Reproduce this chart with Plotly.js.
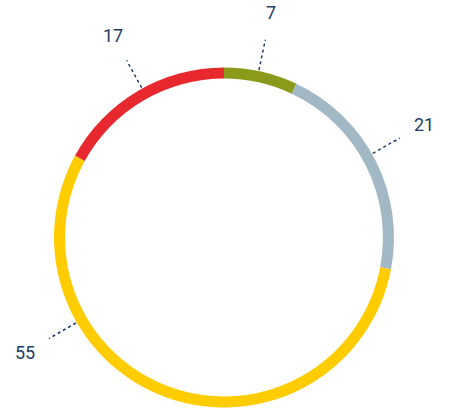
<!DOCTYPE html>
<html>
<head>
<meta charset="utf-8">
<script src="https://cdn.plot.ly/plotly-3.0.1.min.js"></script>
<style>html,body{margin:0;padding:0;background:#fff;}#chart{width:449px;height:408px;}</style>
</head>
<body>
<div id="chart"></div>
<script>
const categories = ["A", "B", "C", "D"];
const values = [7, 21, 55, 17];
const labelTexts = ["7", "21", "55", "17"];
const colors = ["#8c9a1c", "#a3b8c5", "#ffcc00", "#e8282f"];

const W = 449, H = 408;
const cx = 224, cy = 237.5, R = 170;
const textColor = "#1c3c62";
// label placement angles (degrees clockwise from top); null = slice middle
const labelAngles = [11.8, 60.5, 240, 331.2];

const total = values.reduce((a, b) => a + b, 0);
let cum = 0;
const shapes = [], annotations = [];
values.forEach((v, i) => {
  let mid = (cum + v / 2) / total * 360;
  cum += v;
  if (labelAngles[i] !== null) mid = labelAngles[i];
  const t = mid * Math.PI / 180;
  const px = r => (cx + r * Math.sin(t)) / W;
  const py = r => (H - (cy - r * Math.cos(t))) / H;
  shapes.push({type: "line", xref: "paper", yref: "paper",
    x0: px(R + 1), y0: py(R + 1), x1: px(R + 32), y1: py(R + 32),
    line: {color: textColor, width: 1.5, dash: "dot"}});
  annotations.push({xref: "paper", yref: "paper", x: px(R + 60), y: py(R + 60),
    text: labelTexts[i], showarrow: false, xanchor: "center", yanchor: "middle",
    font: {family: "Roboto, sans-serif", size: 18, color: textColor}});
});

const data = [{
  type: "pie",
  labels: categories,
  values: values,
  sort: false,
  direction: "clockwise",
  rotation: 0,
  hole: 0.935,
  textinfo: "none",
  hoverinfo: "none",
  marker: {colors: colors, line: {width: 0}},
  domain: {x: [(cx - R) / W, (cx + R) / W], y: [(H - cy - R) / H, (H - cy + R) / H]}
}];

const layout = {
  width: W, height: H,
  margin: {l: 0, r: 0, t: 0, b: 0},
  showlegend: false,
  paper_bgcolor: "#ffffff",
  shapes: shapes,
  annotations: annotations
};

Plotly.newPlot("chart", data, layout, {staticPlot: true, displayModeBar: false});
</script>
</body>
</html>
